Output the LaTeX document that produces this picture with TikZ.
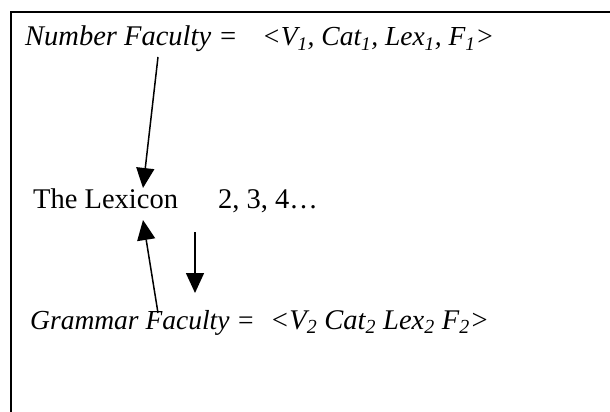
\documentclass[tikz,border=0pt]{standalone}
\usepackage{fontspec}
\setmainfont{Liberation Serif}
\usetikzlibrary{arrows.meta}
\tikzset{
  txt/.style={anchor=base west, inner sep=0pt, font=\fontsize{28.5}{34}\selectfont},
  txtsm/.style={anchor=base west, inner sep=0pt, font=\fontsize{27.5}{33}\selectfont},
  conn/.style={line width=1.5pt, -{Triangle[width=18pt,length=20pt]}},
  frame/.style={line width=2pt}
}
\newcommand{\subsc}[1]{\textsubscript{#1}}
\begin{document}
\begin{tikzpicture}[x=1pt,y=-1pt]
\useasboundingbox (0,0) rectangle (610,412);
\draw[frame] (11,412) -- (11,12) -- (610,12);
\node[txt] (nf) at (25,46) {\itshape Number Faculty =};
\node[txtsm] (nt) at (262,46) {\itshape <V\subsc{1}, Cat\subsc{1}, Lex\subsc{1}, F\subsc{1}>};
\node[txt] (lex) at (33,208) {The Lexicon};
\node[txt] (num) at (218,208) {2, 3, 4…};
\node[txtsm] (gf) at (30,329) {\itshape Grammar Faculty =};
\node[txt] (gt) at (270,329) {\itshape <V\subsc{2} Cat\subsc{2} Lex\subsc{2} F\subsc{2}>};
\coordinate (a1s) at (158,57);
\coordinate (a1e) at (143,188);
\coordinate (a2s) at (158,313);
\coordinate (a2e) at (143,220);
\coordinate (a3s) at (195,232);
\coordinate (a3e) at (195,293);
\draw[conn] (a1s) -- (a1e);
\draw[conn] (a2s) -- (a2e);
\draw[conn] (a3s) -- (a3e);
\end{tikzpicture}
\end{document}
